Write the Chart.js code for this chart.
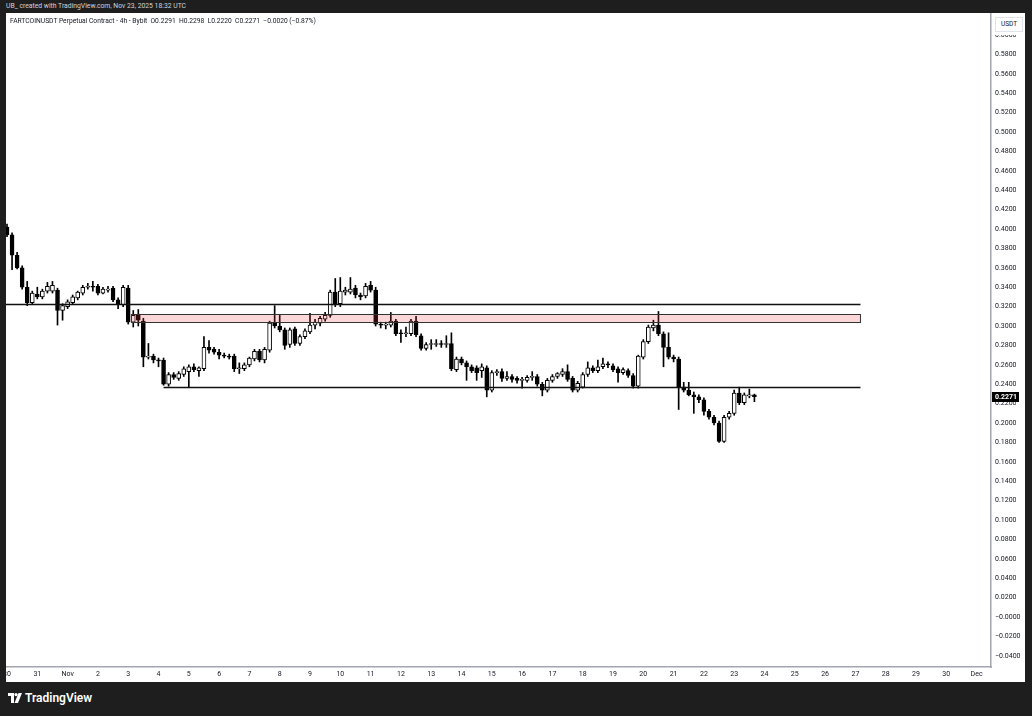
<!DOCTYPE html>
<html>
<head>
<meta charset="utf-8">
<script src="https://cdn.jsdelivr.net/npm/chart.js@4.4.1/dist/chart.umd.min.js"></script>
<style>
  html, body { margin: 0; padding: 0; width: 1032px; height: 716px; overflow: hidden; background: #1e1e1e; font-family: Roboto, "Noto Sans", sans-serif; }
  #credit { position: absolute; left: 6px; top: 2px; font-size: 6.8px; color: #d1d4dc; white-space: nowrap; }
  #panel { position: absolute; left: 6px; top: 13px; width: 1019px; height: 669px; background: #fff; }
  #legend { position: absolute; left: 4px; top: 4px; font-size: 6.7px; color: #131722; white-space: nowrap; z-index: 2; }
  #unitbg { position: absolute; left: 987px; top: 2px; width: 31px; height: 20px; background: #fff; z-index: 2; }
  #unit { position: absolute; left: 989px; top: 4px; width: 26px; height: 13px; line-height: 13px; border: 1px solid #e0e3eb; background: #fff; font-size: 6.5px; color: #131722; text-align: center; z-index: 3; }
  #brand { position: absolute; left: 8px; top: 691px; height: 14px; display: flex; align-items: center; color: #fff; font-size: 12px; font-weight: 600; }
  #brand svg { margin-right: 3px; }
</style>
</head>
<body>
<div id="credit">UB_ created with TradingView.com, Nov 23, 2025 18:32 UTC</div>
<div id="panel">
  <div id="legend">FARTCOINUSDT Perpetual Contract - 4h - Bybit&nbsp; O0.2291&nbsp; H0.2298&nbsp; L0.2220&nbsp; C0.2271&nbsp; −0.0020 (−0.87%)</div>
  <div id="unitbg"></div>
  <div id="unit">USDT</div>
  <canvas id="chart"></canvas>
</div>
<div id="brand">
  <svg width="14" height="10" viewBox="0 0 14 10"><path d="M0 0h6v10H3V3H0z" fill="#fff"/><circle cx="8" cy="1.6" r="1.6" fill="#fff"/><path d="M10.5 0H14L10 10H6.5z" fill="#fff"/></svg>
  TradingView
</div>
<script>
// 4h candles, Oct 30 00:00 -> Nov 23 16:00 (index = number of 4h bars)
const opens = [
  .402, .394, .373, .360, .340, .324, .333, .330, .336, .336,
  .337, .316, .320, .324, .329, .334, .340, .341, .341, .334,
  .338, .339, .327, .322, .339, .304, .311, .305, .268, .269,
  .265, .265, .240, .250, .246, .250, .253, .258, .254, .256,
  .278, .276, .273, .270, .269, .269, .256, .256, .260, .266,
  .274, .265, .275, .303, .300, .296, .281, .297, .282, .289,
  .294, .301, .303, .307, .311, .335, .323, .335, .335, .339,
  .332, .331, .342, .337, .302, .301, .301, .305, .293, .292,
  .292, .305, .290, .277, .281, .282, .282, .281, .282, .255,
  .266, .262, .258, .257, .254, .257, .234, .252, .253, .246,
  .248, .246, .244, .244, .247, .248, .240, .234, .244, .248,
  .250, .253, .246, .234, .237, .250, .257, .254, .258, .261,
  .259, .256, .252, .254, .249, .238, .268, .284, .298, .301,
  .292, .278, .268, .266, .237, .234, .229, .227, .224, .212,
  .206, .200, .181, .206, .210, .231, .221, .228, .2291
];
const highs = [
  .405, .396, .376, .362, .346, .336, .340, .338, .345, .346,
  .339, .323, .327, .332, .336, .342, .344, .346, .343, .340,
  .341, .341, .329, .342, .342, .316, .317, .308, .282, .271,
  .267, .267, .252, .252, .253, .258, .260, .261, .258, .289,
  .285, .278, .276, .272, .271, .271, .262, .262, .268, .276,
  .276, .278, .305, .321, .311, .298, .298, .299, .291, .297,
  .313, .307, .310, .314, .337, .349, .350, .340, .350, .342,
  .334, .344, .346, .340, .304, .304, .314, .307, .296, .299,
  .307, .310, .292, .283, .286, .286, .285, .290, .293, .268,
  .268, .264, .260, .259, .261, .259, .254, .255, .256, .253,
  .250, .248, .247, .249, .253, .250, .242, .246, .250, .252,
  .256, .260, .248, .243, .252, .263, .259, .265, .267, .263,
  .261, .258, .257, .256, .251, .270, .286, .301, .306, .315,
  .294, .293, .270, .268, .242, .242, .232, .229, .226, .214,
  .208, .202, .208, .212, .234, .237, .231, .235, .2298
];
const lows = [
  .392, .358, .359, .338, .321, .322, .328, .328, .334, .334,
  .301, .306, .318, .322, .327, .332, .338, .336, .332, .333,
  .335, .325, .318, .320, .302, .299, .300, .258, .266, .262,
  .258, .239, .238, .245, .244, .248, .237, .253, .248, .254,
  .272, .271, .266, .267, .266, .253, .251, .254, .258, .264,
  .263, .262, .273, .298, .294, .276, .278, .280, .280, .287,
  .292, .297, .300, .305, .309, .320, .320, .332, .333, .329,
  .327, .329, .335, .300, .298, .297, .299, .290, .283, .289,
  .290, .289, .275, .275, .276, .279, .278, .278, .254, .253,
  .260, .244, .252, .244, .247, .227, .232, .249, .243, .244,
  .242, .241, .236, .242, .244, .238, .228, .232, .242, .246,
  .248, .243, .232, .232, .236, .248, .252, .252, .256, .257,
  .253, .242, .250, .247, .236, .236, .266, .282, .295, .290,
  .258, .266, .263, .214, .232, .228, .210, .221, .208, .204,
  .198, .180, .180, .204, .208, .219, .219, .226, .2220
];
const closes = [
  .394, .373, .360, .340, .324, .334, .330, .336, .341, .342,
  .316, .321, .325, .330, .335, .340, .341, .340, .334, .338,
  .338, .327, .322, .340, .304, .311, .306, .268, .269, .265,
  .264, .240, .250, .247, .251, .256, .258, .255, .257, .278,
  .275, .273, .270, .269, .268, .256, .257, .260, .267, .274,
  .265, .276, .303, .300, .296, .280, .296, .282, .289, .295,
  .301, .304, .308, .311, .335, .322, .336, .337, .338, .332,
  .330, .341, .337, .302, .301, .302, .305, .292, .292, .293,
  .305, .291, .277, .281, .282, .282, .281, .282, .256, .266,
  .262, .258, .254, .252, .258, .234, .252, .253, .246, .248,
  .245, .244, .245, .247, .248, .240, .234, .244, .248, .251,
  .253, .245, .234, .241, .250, .257, .254, .258, .261, .260,
  .255, .252, .255, .249, .238, .269, .284, .299, .301, .292,
  .278, .268, .266, .237, .234, .229, .227, .224, .212, .206,
  .200, .181, .206, .210, .231, .221, .229, .229, .2271
];

// one label per day, a day = 6 bars
const dayLabels = ['30', '31', 'Nov', '2', '3', '4', '5', '6', '7', '8', '9', '10', '11', '12', '13', '14', '15',
  '16', '17', '18', '19', '20', '21', '22', '23', '24', '25', '26', '27', '28', '29', '30', 'Dec'];

// drawn levels
const resistance = 0.3227;
const support = 0.2371;
const zone = [0.3041, 0.3124];
const resistanceFrom = -0.2, supportFrom = 31, zoneFrom = 24.6, levelsTo = 169;

const wicks = highs.map((h, i) => ({ x: i, y: [lows[i], h] }));
const bodies = opens.map((o, i) => ({ x: i, y: [o, closes[i]] }));
const bodyColors = opens.map((o, i) => closes[i] >= o ? '#ffffff' : '#000000');
const lastClose = closes[closes.length - 1];

const noPadding = scale => {
  scale.paddingLeft = 0;
  scale.paddingRight = 0;
  scale.paddingTop = 0;
  scale.paddingBottom = 0;
};

const levels = {
  id: 'levels',
  afterDatasetsDraw(chart) {
    const { ctx, scales: { x, y } } = chart;
    const xr = x.getPixelForValue(levelsTo);
    ctx.save();
    // pink zone
    const zx = Math.round(x.getPixelForValue(zoneFrom)) + 0.5;
    const zt = Math.round(y.getPixelForValue(zone[1])) + 0.5;
    const zb = Math.round(y.getPixelForValue(zone[0])) + 0.5;
    ctx.fillStyle = 'rgba(242, 54, 69, 0.2)';
    ctx.fillRect(zx, zt, xr - zx, zb - zt);
    ctx.strokeStyle = '#333';
    ctx.lineWidth = 1;
    ctx.strokeRect(zx, zt, xr - zx, zb - zt);
    // horizontal lines
    ctx.strokeStyle = '#111';
    ctx.lineWidth = 1.3;
    [[resistance, resistanceFrom], [support, supportFrom]].forEach(([v, from]) => {
      const py = Math.round(y.getPixelForValue(v)) + 0.5;
      ctx.beginPath();
      ctx.moveTo(x.getPixelForValue(from), py);
      ctx.lineTo(xr, py);
      ctx.stroke();
    });
    ctx.restore();
  },
  afterDraw(chart) {
    const { ctx, scales: { y }, chartArea } = chart;
    const py = Math.round(y.getPixelForValue(lastClose));
    ctx.save();
    ctx.fillStyle = '#000';
    ctx.fillRect(chartArea.right + 1, py - 5, 27, 10);
    ctx.fillStyle = '#fff';
    ctx.font = 'bold 7px Roboto';
    ctx.textBaseline = 'middle';
    ctx.fillText(lastClose.toFixed(4), chartArea.right + 4, py + 0.5);
    ctx.restore();
  }
};

new Chart(document.getElementById('chart'), {
  type: 'bar',
  data: {
    datasets: [
      {
        label: 'body',
        data: bodies,
        backgroundColor: bodyColors,
        borderColor: '#000',
        borderWidth: 1,
        borderSkipped: false,
        barThickness: 4,
        minBarLength: 1,
        grouped: false,
        order: 0
      },
      {
        label: 'wick',
        data: wicks,
        backgroundColor: '#000',
        borderWidth: 0,
        barThickness: 1,
        grouped: false,
        order: 1
      }
    ]
  },
  options: {
    responsive: true,
    maintainAspectRatio: false,
    animation: false,
    layout: { padding: 0 },
    plugins: {
      legend: { display: false },
      tooltip: { enabled: false }
    },
    scales: {
      x: {
        type: 'linear',
        min: -0.2,
        max: 194.85,
        offset: false,
        grid: { display: false, drawTicks: false },
        border: { display: true, color: '#a3a6af', width: 1.5 },
        afterBuildTicks: scale => { scale.ticks = dayLabels.map((_, k) => ({ value: k * 6 })); },
        afterFit: scale => { scale.height = 15; noPadding(scale); },
        ticks: {
          autoSkip: false,
          maxRotation: 0,
          padding: 3,
          color: '#131722',
          font: { family: 'Roboto', size: 7 },
          callback: v => dayLabels[Math.round(v / 6)]
        }
      },
      y: {
        position: 'right',
        min: -0.0515,
        max: 0.6227,
        grid: { display: false, drawTicks: false },
        border: { display: true, color: '#a3a6af', width: 1.5 },
        afterBuildTicks: scale => {
          scale.ticks = scale.ticks.filter(t => t.value > -0.041 && t.value < 0.601);
        },
        afterFit: scale => { scale.width = 34; noPadding(scale); },
        ticks: {
          stepSize: 0.02,
          includeBounds: false,
          padding: 4,
          color: '#131722',
          font: { family: 'Roboto', size: 7 },
          callback: v => (v <= 0.0001 ? '−' + Math.abs(v).toFixed(4) : v.toFixed(4))
        }
      }
    }
  },
  plugins: [levels]
});
</script>
</body>
</html>
